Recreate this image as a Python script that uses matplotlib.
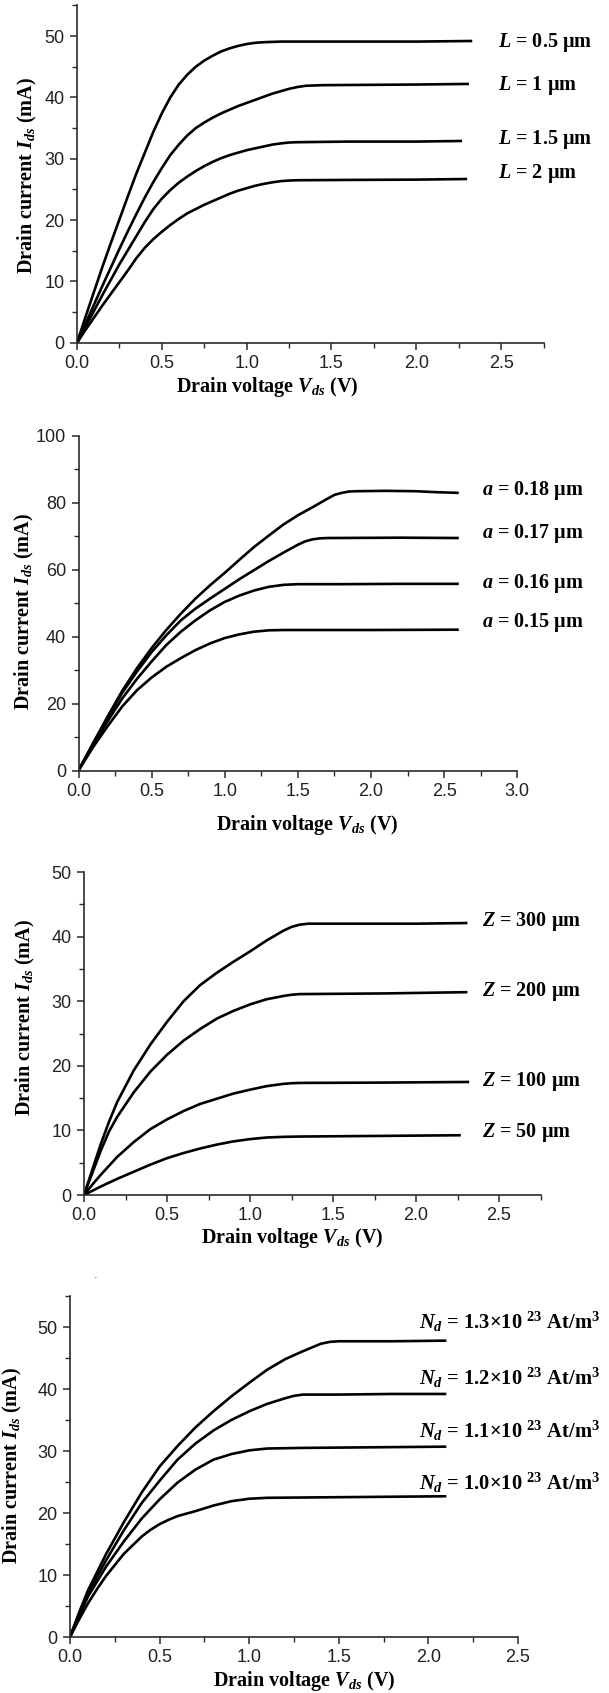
import numpy as np
import matplotlib.pyplot as plt
from matplotlib.ticker import MultipleLocator

plt.rcParams['mathtext.fontset'] = 'custom'
plt.rcParams['mathtext.rm'] = 'Liberation Serif:bold'
plt.rcParams['mathtext.it'] = 'Liberation Serif:italic:bold'
plt.rcParams['mathtext.bf'] = 'Liberation Serif:bold'

W, H = 609, 1693

# ---- panel 1: channel length L ----
v_L05 = [0, 0.05, 0.1, 0.15, 0.2, 0.25, 0.3, 0.35, 0.4, 0.45, 0.5, 0.55, 0.6, 0.65, 0.7, 0.75, 0.8, 0.85,
         0.9, 0.95, 1.0, 1.05, 1.1, 1.15, 1.2, 1.5, 2.0, 2.33]
i_L05 = [0, 4.2, 8.3, 12.4, 16.3, 20.1, 23.9, 27.6, 31.0, 34.4, 37.4, 40.0, 42.1, 43.7, 45.0, 46.0, 46.8, 47.5,
         48.0, 48.4, 48.7, 48.9, 49.0, 49.05, 49.1, 49.1, 49.1, 49.2]
v_L1 = [0, 0.05, 0.1, 0.15, 0.2, 0.25, 0.3, 0.35, 0.4, 0.45, 0.5, 0.55, 0.6, 0.65, 0.7, 0.75, 0.8, 0.85, 0.9,
        0.95, 1.0, 1.05, 1.1, 1.15, 1.2, 1.25, 1.3, 1.35, 1.45, 2.0, 2.31]
i_L1 = [0, 3.1, 6.2, 9.3, 12.3, 15.3, 18.2, 21.0, 23.7, 26.2, 28.5, 30.6, 32.3, 33.8, 35.0, 35.9, 36.7, 37.4, 38.0,
        38.6, 39.1, 39.6, 40.1, 40.6, 41.0, 41.4, 41.7, 41.9, 42.0, 42.1, 42.2]
v_L15 = [0, 0.05, 0.1, 0.15, 0.2, 0.25, 0.3, 0.35, 0.4, 0.45, 0.5, 0.55, 0.6, 0.65, 0.7, 0.75, 0.8, 0.85, 0.9,
         0.95, 1.0, 1.05, 1.1, 1.15, 1.2, 1.25, 1.3, 1.6, 2.0, 2.27]
i_L15 = [0, 2.6, 5.2, 7.8, 10.3, 12.8, 15.1, 17.4, 19.7, 21.8, 23.5, 24.9, 26.1, 27.1, 28.0, 28.8, 29.5, 30.1, 30.6,
         31.0, 31.4, 31.7, 32.0, 32.3, 32.5, 32.65, 32.7, 32.8, 32.8, 32.9]
v_L2 = [0, 0.05, 0.1, 0.15, 0.2, 0.25, 0.3, 0.35, 0.4, 0.45, 0.5, 0.55, 0.6, 0.65, 0.7, 0.75, 0.8, 0.85, 0.9,
        0.95, 1.0, 1.05, 1.1, 1.15, 1.2, 1.25, 1.3, 1.6, 2.0, 2.30]
i_L2 = [0, 2.1, 4.1, 6.1, 8.0, 9.9, 11.8, 13.8, 15.5, 16.9, 18.1, 19.2, 20.2, 21.1, 21.8, 22.5, 23.1, 23.7, 24.3,
        24.8, 25.2, 25.6, 25.9, 26.15, 26.35, 26.45, 26.5, 26.55, 26.6, 26.7]
labels_L = [r'$L$ = 0.5 µm', r'$L$ = 1 µm', r'$L$ = 1.5 µm', r'$L$ = 2 µm']
label_y_L = [48.9, 42.0, 33.1, 27.6]

# ---- panel 2: channel thickness a ----
v_a18 = [0, 0.1, 0.2, 0.3, 0.4, 0.5, 0.6, 0.7, 0.8, 0.9, 1.0, 1.1, 1.2, 1.3, 1.4, 1.5, 1.6, 1.7, 1.75, 1.8,
         1.85, 1.9, 2.1, 2.3, 2.45, 2.6]
i_a18 = [0, 8.2, 16.2, 23.9, 30.6, 36.6, 42.0, 46.9, 51.4, 55.4, 59.1, 63.0, 66.8, 70.2, 73.5, 76.3, 78.7, 81.2,
         82.4, 83.0, 83.4, 83.5, 83.6, 83.5, 83.2, 83.0]
v_a17 = [0, 0.1, 0.2, 0.3, 0.4, 0.5, 0.6, 0.7, 0.8, 0.9, 1.0, 1.1, 1.2, 1.3, 1.4, 1.5, 1.55, 1.6, 1.65, 1.7,
         2.2, 2.6]
i_a17 = [0, 8.0, 15.8, 23.3, 29.6, 35.4, 40.4, 44.9, 48.4, 51.4, 54.3, 57.2, 59.9, 62.6, 65.1, 67.5, 68.5, 69.1,
         69.4, 69.5, 69.6, 69.5]
v_a16 = [0, 0.1, 0.2, 0.3, 0.4, 0.5, 0.6, 0.7, 0.8, 0.9, 1.0, 1.1, 1.2, 1.3, 1.4, 1.5, 1.8, 2.2, 2.6]
i_a16 = [0, 7.6, 14.8, 21.6, 27.4, 32.6, 37.5, 41.5, 44.9, 47.9, 50.4, 52.3, 53.8, 54.9, 55.5, 55.7, 55.7, 55.8,
         55.8]
v_a15 = [0, 0.1, 0.2, 0.3, 0.4, 0.5, 0.6, 0.7, 0.8, 0.9, 1.0, 1.1, 1.2, 1.3, 1.4, 2.0, 2.6]
i_a15 = [0, 7.0, 13.3, 19.2, 24.0, 27.8, 31.0, 33.6, 36.0, 38.0, 39.6, 40.7, 41.5, 41.9, 42.0, 42.0, 42.1]
labels_a = [r'$a$ = 0.18 µm', r'$a$ = 0.17 µm', r'$a$ = 0.16 µm', r'$a$ = 0.15 µm']
label_y_a = [83.8, 71.0, 56.0, 44.1]

# ---- panel 3: gate width Z ----
v_Z300 = [0, 0.05, 0.1, 0.15, 0.2, 0.3, 0.4, 0.5, 0.6, 0.7, 0.8, 0.9, 1.0, 1.1, 1.2, 1.25, 1.3, 1.35, 1.6,
          2.0, 2.31]
i_Z300 = [0, 3.9, 7.8, 11.3, 14.4, 19.3, 23.3, 26.8, 30.0, 32.5, 34.4, 36.1, 37.7, 39.4, 40.9, 41.5, 41.85, 42.0,
          42.0, 42.0, 42.1]
v_Z200 = [0, 0.05, 0.1, 0.15, 0.2, 0.3, 0.4, 0.5, 0.6, 0.7, 0.8, 0.9, 1.0, 1.1, 1.2, 1.25, 1.3, 1.8, 2.31]
i_Z200 = [0, 3.4, 6.8, 9.8, 12.1, 15.9, 19.1, 21.7, 23.9, 25.7, 27.3, 28.5, 29.5, 30.3, 30.8, 31.0, 31.1, 31.2,
          31.4]
v_Z100 = [0, 0.05, 0.1, 0.15, 0.2, 0.3, 0.4, 0.5, 0.6, 0.7, 0.8, 0.9, 1.0, 1.1, 1.2, 1.25, 1.3, 1.8, 2.32]
i_Z100 = [0, 1.6, 3.1, 4.5, 5.9, 8.2, 10.2, 11.7, 13.0, 14.1, 14.9, 15.7, 16.3, 16.85, 17.2, 17.3, 17.35, 17.4,
          17.5]
v_Z50 = [0, 0.1, 0.2, 0.3, 0.4, 0.5, 0.6, 0.7, 0.8, 0.9, 1.0, 1.1, 1.2, 1.3, 1.8, 2.27]
i_Z50 = [0, 1.3, 2.5, 3.6, 4.7, 5.7, 6.5, 7.2, 7.8, 8.3, 8.65, 8.9, 9.0, 9.05, 9.15, 9.25]
labels_Z = [r'$Z$ = 300 µm', r'$Z$ = 200 µm', r'$Z$ = 100 µm', r'$Z$ = 50 µm']
label_y_Z = [42.3, 31.5, 17.5, 9.6]

# ---- panel 4: doping Nd ----
v_N13 = [0, 0.05, 0.1, 0.2, 0.3, 0.4, 0.5, 0.6, 0.7, 0.8, 0.9, 1.0, 1.1, 1.2, 1.3, 1.4, 1.45, 1.5, 1.8, 2.1]
i_N13 = [0, 3.9, 7.5, 13.3, 18.5, 23.3, 27.5, 30.8, 33.8, 36.4, 38.8, 41.0, 43.1, 44.8, 46.1, 47.3, 47.6, 47.7,
         47.7, 47.8]
v_N12 = [0, 0.05, 0.1, 0.2, 0.3, 0.4, 0.5, 0.6, 0.7, 0.8, 0.9, 1.0, 1.1, 1.2, 1.25, 1.3, 1.5, 1.8, 2.1]
i_N12 = [0, 3.6, 7.0, 12.3, 17.2, 21.6, 25.2, 28.6, 31.2, 33.3, 35.0, 36.4, 37.6, 38.5, 38.9, 39.1, 39.1, 39.2,
         39.2]
v_N11 = [0, 0.05, 0.1, 0.2, 0.3, 0.4, 0.5, 0.6, 0.7, 0.8, 0.9, 1.0, 1.1, 1.3, 1.7, 2.1]
i_N11 = [0, 3.3, 6.5, 11.3, 15.4, 19.1, 22.2, 24.9, 27.0, 28.6, 29.5, 30.1, 30.4, 30.5, 30.6, 30.7]
v_N10 = [0, 0.05, 0.1, 0.15, 0.2, 0.3, 0.4, 0.45, 0.5, 0.55, 0.6, 0.65, 0.7, 0.8, 0.9, 1.0, 1.1, 1.3, 1.7, 2.1]
i_N10 = [0, 2.8, 5.4, 7.7, 9.8, 13.4, 16.2, 17.3, 18.2, 18.9, 19.5, 19.9, 20.3, 21.2, 21.9, 22.3, 22.45, 22.5,
         22.6, 22.7]
labels_N = [r'$N_d$ = 1.3×10 $^{23}$ At/m$^3$', r'$N_d$ = 1.2×10 $^{23}$ At/m$^3$',
            r'$N_d$ = 1.1×10 $^{23}$ At/m$^3$', r'$N_d$ = 1.0×10 $^{23}$ At/m$^3$']
label_y_N = [50.8, 41.8, 33.2, 24.8]

fig = plt.figure(figsize=(W / 100, H / 100), dpi=100)

serif = 'Liberation Serif'
sans = 'Liberation Sans'


def make_axes(left, right, top, bottom, xmax, ymax, ymajor, yminor, xmajor_max):
    ax = fig.add_axes([left / W, 1 - bottom / H, (right - left) / W, (bottom - top) / H])
    ax.set_xlim(0, xmax)
    ax.set_ylim(0, ymax)
    for s in ['top', 'right']:
        ax.spines[s].set_visible(False)
    for s in ['left', 'bottom']:
        ax.spines[s].set_linewidth(1.2)
        ax.spines[s].set_color('#2a2a2a')
    ax.set_xticks(np.arange(0, xmajor_max + 0.01, 0.5))
    ax.xaxis.set_minor_locator(MultipleLocator(0.25))
    ax.set_yticks(np.arange(0, ymax + 0.01, ymajor))
    ax.yaxis.set_minor_locator(MultipleLocator(yminor))
    ax.xaxis.set_major_formatter(plt.FuncFormatter(lambda v, p: '%.1f' % v))
    ax.tick_params(which='major', direction='out', length=5, width=1.1, color='#2a2a2a',
                   labelsize=13, labelcolor='#222222', pad=4)
    ax.tick_params(which='minor', direction='out', length=3.5, width=1.0, color='#2a2a2a')
    for lab in ax.get_xticklabels() + ax.get_yticklabels():
        lab.set_family(sans)
    ax.set_facecolor('none')
    return ax


def axis_labels(xc, xy, yc_x, yc_y):
    fig.text(xc / W, 1 - xy / H, r'Drain voltage $V_{ds}$ (V)', family=serif, weight='bold',
             fontsize=14.5, ha='center', va='center')
    fig.text(yc_x / W, 1 - yc_y / H, r'Drain current $I_{ds}$ (mA)', family=serif, weight='bold',
             fontsize=14.5, ha='center', va='center', rotation=90)


def curve_labels(ax, x0, ys, texts, size=14.5):
    for y, t in zip(ys, texts):
        ax.text(x0, y, t, family=serif, weight='bold', fontsize=size, ha='left', va='center',
                clip_on=False)


# panel 1
ax1 = make_axes(77, 543.5, 5.4, 342.8, 2.75, 55, 10, 5, 2.5)
for v, i in [(v_L05, i_L05), (v_L1, i_L1), (v_L15, i_L15), (v_L2, i_L2)]:
    ax1.plot(v, i, color='black', lw=1.9, solid_capstyle='butt', solid_joinstyle='round')
curve_labels(ax1, 2.48, label_y_L, labels_L)
axis_labels(267, 387, 27, 176)

# panel 2
ax2 = make_axes(78.5, 517.3, 436, 770.5, 3.0, 100, 20, 10, 3.0)
for v, i in [(v_a18, i_a18), (v_a17, i_a17), (v_a16, i_a16), (v_a15, i_a15)]:
    ax2.plot(v, i, color='black', lw=1.9, solid_capstyle='butt', solid_joinstyle='round')
curve_labels(ax2, 2.76, label_y_a, labels_a)
axis_labels(307, 825, 24, 612)

# panel 3
ax3 = make_axes(84, 540.5, 872, 1195, 2.75, 50, 10, 5, 2.5)
for v, i in [(v_Z300, i_Z300), (v_Z200, i_Z200), (v_Z100, i_Z100), (v_Z50, i_Z50)]:
    ax3.plot(v, i, color='black', lw=1.9, solid_capstyle='butt', solid_joinstyle='round')
curve_labels(ax3, 2.40, label_y_Z, labels_Z)
axis_labels(292, 1238, 25, 1018)

# panel 4
ax4 = make_axes(70, 518, 1296, 1637, 2.5, 55, 10, 5, 2.5)
for v, i in [(v_N13, i_N13), (v_N12, i_N12), (v_N11, i_N11), (v_N10, i_N10)]:
    ax4.plot(v, i, color='black', lw=1.9, solid_capstyle='butt', solid_joinstyle='round')
curve_labels(ax4, 1.95, label_y_N, labels_N, size=14.8)
axis_labels(304, 1681, 12, 1466)

fig.text(96 / W, 1 - 1275 / H, '.', fontsize=8, color='#444444', ha='center', va='center')

fig.savefig('out.png', dpi=100)
